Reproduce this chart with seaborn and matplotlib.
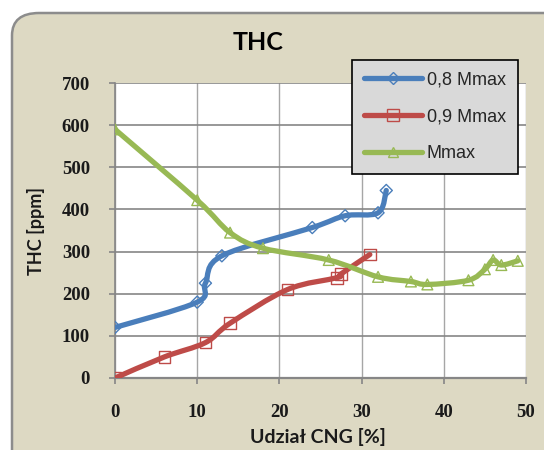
import matplotlib
matplotlib.use("Agg")
import matplotlib.pyplot as plt
import seaborn as sns
import numpy as np
from matplotlib.path import Path
from matplotlib.patches import PathPatch, FancyBboxPatch
from matplotlib.lines import Line2D
from matplotlib.font_manager import FontProperties

sns.set_theme(style="white")

# ---- data ----
x_08 = [0, 10, 11, 13, 24, 28, 32, 33]
y_08 = [120, 180, 225, 290, 357, 385, 392, 445]
x_09 = [0, 6, 11, 14, 21, 27, 27.5, 31]
y_09 = [0, 50, 84, 130, 210, 238, 247, 293]
x_mx = [0, 10, 14, 18, 26, 32, 36, 38, 43, 45, 46, 47, 49]
y_mx = [590, 422, 345, 308, 280, 240, 229, 222, 232, 258, 280, 268, 278]
labels = ["0,8 Mmax", "0,9 Mmax", "Mmax"]
x_ticks = [0, 10, 20, 30, 40, 50]
y_ticks = [0, 100, 200, 300, 400, 500, 600, 700]

c_blue, c_red, c_green = "#4A7EBB", "#BE4B48", "#98B954"
bg = "#DDD9C3"

fig = plt.figure(figsize=(5.44, 4.5), dpi=100)
fig.patch.set_facecolor("white")
frame = FancyBboxPatch((12 / 544, -0.2), 1.2, 0.2 + (450 - 13) / 450,
                       boxstyle="round,pad=0,rounding_size=0.05",
                       transform=fig.transFigure, facecolor=bg,
                       edgecolor="#8C8C8C", linewidth=1.8, zorder=-5)
fig.patches.append(frame)

ax = fig.add_axes([115 / 544, 1 - 378 / 450, 411 / 544, 295 / 450])
ax.set_zorder(2)
ax.set_facecolor("white")


def smooth_path(xs, ys):
    pts = np.column_stack([xs, ys]).astype(float)
    n = len(pts)
    verts = [pts[0]]
    codes = [Path.MOVETO]
    for i in range(n - 1):
        p0 = pts[i - 1] if i > 0 else pts[i]
        p1 = pts[i]
        p2 = pts[i + 1]
        p3 = pts[i + 2] if i + 2 < n else pts[i + 1]
        c1 = p1 + (p2 - p0) / 6.0
        c2 = p2 - (p3 - p1) / 6.0
        verts += [c1, c2, p2]
        codes += [Path.CURVE4] * 3
    return Path(verts, codes)


series = [
    (x_08, y_08, c_blue, "D", 38),
    (x_09, y_09, c_red, "s", 70),
    (x_mx, y_mx, c_green, "^", 60),
]
for xs, ys, col, mk, sz in series:
    ax.add_patch(PathPatch(smooth_path(xs, ys), facecolor="none",
                           edgecolor=col, linewidth=3.8, zorder=3,
                           capstyle="round", joinstyle="round"))
    sns.scatterplot(x=xs, y=ys, marker=mk, s=sz, facecolors="none",
                    edgecolors=col, linewidth=1.0, zorder=4, ax=ax)

ax.set_xlim(0, 50)
ax.set_ylim(0, 700)
ax.set_xticks(x_ticks)
ax.set_yticks(y_ticks)
ax.set_xticklabels([str(v) for v in x_ticks])
ax.set_yticklabels([str(v) for v in y_ticks])
ax.grid(True, axis="y", color="#868686", linewidth=1.2)
ax.grid(True, axis="x", color="#A6A6A6", linewidth=1.0)
ax.set_axisbelow(True)
for s in ["top", "right"]:
    ax.spines[s].set_visible(False)
ax.spines["left"].set_color("#868686")
ax.spines["bottom"].set_color("#868686")
ax.spines["left"].set_linewidth(1.2)
ax.spines["bottom"].set_linewidth(1.6)
ax.tick_params(axis="both", which="major", direction="out", length=4,
               color="#868686", width=1.2, left=True, bottom=True)
ax.tick_params(axis="x", pad=15)
ax.tick_params(axis="y", pad=14)
tick_fp = FontProperties(family="Liberation Serif", weight="bold", size=13.5)
for lab in ax.get_xticklabels() + ax.get_yticklabels():
    lab.set_fontproperties(tick_fp)
    lab.set_color("#1a1a1a")

fig.text(258 / 544, 1 - 42 / 450, "THC", ha="center", va="center",
         fontsize=18, fontweight="bold", family="Lato", color="black")
fig.text(36 / 544, 1 - 231 / 450, "THC [ppm]", ha="center", va="center",
         rotation=90, fontsize=13, fontweight="bold", family="Lato",
         color="#1a1a1a")
fig.text(318 / 544, 1 - 437 / 450, "Udział CNG [%]", ha="center",
         va="center", fontsize=14, fontweight="bold", family="Lato",
         color="#1a1a1a")

handles = [
    Line2D([], [], color=c_blue, lw=3.8, marker="D", markersize=6,
           markerfacecolor="none", markeredgecolor=c_blue, markeredgewidth=1),
    Line2D([], [], color=c_red, lw=3.8, marker="s", markersize=8,
           markerfacecolor="none", markeredgecolor=c_red, markeredgewidth=1),
    Line2D([], [], color=c_green, lw=3.8, marker="^", markersize=7,
           markerfacecolor="none", markeredgecolor=c_green, markeredgewidth=1),
]
leg = ax.legend(handles, labels, loc="upper left",
                bbox_to_anchor=(237 / 411, (378 - 60) / 295),
                frameon=True, fancybox=False, framealpha=1,
                facecolor="#D9D9D9", edgecolor="black",
                prop={"family": "Liberation Sans", "size": 13},
                handlelength=3.2, labelspacing=1.1, borderpad=0.65,
                handletextpad=0.3, borderaxespad=0)
leg.get_frame().set_linewidth(1.2)
leg.set_zorder(10)

fig.savefig("out.png", dpi=100, facecolor=fig.get_facecolor())
